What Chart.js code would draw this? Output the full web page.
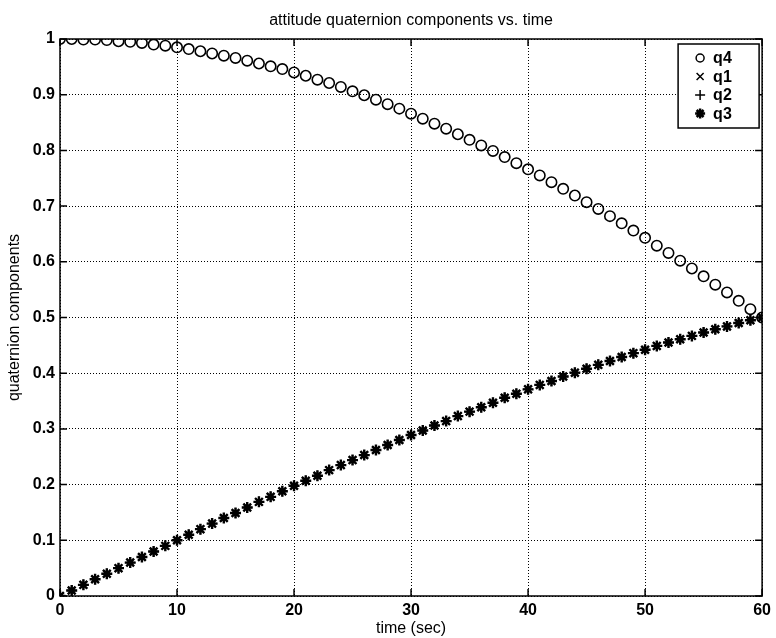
<!DOCTYPE html>
<html>
<head>
<meta charset="utf-8">
<title>attitude quaternion components vs. time</title>
<script src="https://cdn.jsdelivr.net/npm/chart.js@4.4.0/dist/chart.umd.min.js"></script>
<style>
  html, body { margin: 0; padding: 0; background: #fff; }
  #wrap { width: 776px; height: 638px; }
</style>
</head>
<body>
<div id="wrap"><canvas id="quat-chart" width="776" height="638"></canvas></div>
<script>
// time axis (sec)
const time = [
  0, 1, 2, 3, 4, 5, 6, 7, 8, 9,
  10, 11, 12, 13, 14, 15, 16, 17, 18, 19,
  20, 21, 22, 23, 24, 25, 26, 27, 28, 29,
  30, 31, 32, 33, 34, 35, 36, 37, 38, 39,
  40, 41, 42, 43, 44, 45, 46, 47, 48, 49,
  50, 51, 52, 53, 54, 55, 56, 57, 58, 59,
  60,
];

// scalar part
const q4 = [
  1.000, 1.000, 0.999, 0.999, 0.998, 0.996, 0.995, 0.993, 0.990, 0.988,
  0.985, 0.982, 0.978, 0.974, 0.970, 0.966, 0.961, 0.956, 0.951, 0.946,
  0.940, 0.934, 0.927, 0.921, 0.914, 0.906, 0.899, 0.891, 0.883, 0.875,
  0.866, 0.857, 0.848, 0.839, 0.829, 0.819, 0.809, 0.799, 0.788, 0.777,
  0.766, 0.755, 0.743, 0.731, 0.719, 0.707, 0.695, 0.682, 0.669, 0.656,
  0.643, 0.629, 0.616, 0.602, 0.588, 0.574, 0.559, 0.545, 0.530, 0.515,
  0.500,
];

// vector part - the three components sit on top of each other
const q1 = [
  0.000, 0.010, 0.020, 0.030, 0.040, 0.050, 0.060, 0.070, 0.080, 0.090,
  0.100, 0.110, 0.120, 0.130, 0.140, 0.149, 0.159, 0.169, 0.178, 0.188,
  0.198, 0.207, 0.216, 0.226, 0.235, 0.244, 0.253, 0.262, 0.271, 0.280,
  0.289, 0.297, 0.306, 0.314, 0.323, 0.331, 0.339, 0.347, 0.356, 0.363,
  0.371, 0.379, 0.386, 0.394, 0.401, 0.408, 0.415, 0.422, 0.429, 0.436,
  0.442, 0.449, 0.455, 0.461, 0.467, 0.473, 0.479, 0.484, 0.490, 0.495,
  0.500,
];
const q2 = [
  0.000, 0.010, 0.020, 0.030, 0.040, 0.050, 0.060, 0.070, 0.080, 0.090,
  0.100, 0.110, 0.120, 0.130, 0.140, 0.149, 0.159, 0.169, 0.178, 0.188,
  0.198, 0.207, 0.216, 0.226, 0.235, 0.244, 0.253, 0.262, 0.271, 0.280,
  0.289, 0.297, 0.306, 0.314, 0.323, 0.331, 0.339, 0.347, 0.356, 0.363,
  0.371, 0.379, 0.386, 0.394, 0.401, 0.408, 0.415, 0.422, 0.429, 0.436,
  0.442, 0.449, 0.455, 0.461, 0.467, 0.473, 0.479, 0.484, 0.490, 0.495,
  0.500,
];
const q3 = [
  0.000, 0.010, 0.020, 0.030, 0.040, 0.050, 0.060, 0.070, 0.080, 0.090,
  0.100, 0.110, 0.120, 0.130, 0.140, 0.149, 0.159, 0.169, 0.178, 0.188,
  0.198, 0.207, 0.216, 0.226, 0.235, 0.244, 0.253, 0.262, 0.271, 0.280,
  0.289, 0.297, 0.306, 0.314, 0.323, 0.331, 0.339, 0.347, 0.356, 0.363,
  0.371, 0.379, 0.386, 0.394, 0.401, 0.408, 0.415, 0.422, 0.429, 0.436,
  0.442, 0.449, 0.455, 0.461, 0.467, 0.473, 0.479, 0.484, 0.490, 0.495,
  0.500,
];

const FONT = "'Liberation Sans', Arial, Helvetica, sans-serif";

function pts(ys) {
  return time.map((t, i) => ({ x: t, y: ys[i] }));
}

function series(label, ys, style, radius, width) {
  return {
    label: label,
    data: pts(ys),
    pointStyle: style,
    pointRadius: radius,
    pointHoverRadius: radius,
    pointBorderWidth: width,
    borderColor: "#000",
    backgroundColor: "rgba(0,0,0,0)",
    showLine: false,
  };
}

// draws the axes box and the inward tick marks, MATLAB style
const frame = {
  id: "frame",
  afterDatasetsDraw(chart) {
    const { ctx, chartArea: a, scales } = chart;
    const len = 7;
    ctx.save();
    ctx.strokeStyle = "#000";
    ctx.lineWidth = 1.5;
    ctx.strokeRect(a.left, a.top, a.right - a.left, a.bottom - a.top);
    ctx.beginPath();
    scales.x.ticks.forEach((t) => {
      const px = scales.x.getPixelForValue(t.value);
      ctx.moveTo(px, a.bottom); ctx.lineTo(px, a.bottom - len);
      ctx.moveTo(px, a.top); ctx.lineTo(px, a.top + len);
    });
    scales.y.ticks.forEach((t) => {
      const py = scales.y.getPixelForValue(t.value);
      ctx.moveTo(a.left, py); ctx.lineTo(a.left + len, py);
      ctx.moveTo(a.right, py); ctx.lineTo(a.right - len, py);
    });
    ctx.stroke();
    ctx.restore();
  },
};

function marker(ctx, style, x, y) {
  ctx.beginPath();
  if (style === "circle") {
    ctx.arc(x, y, 4, 0, Math.PI * 2);
  }
  if (style === "crossRot" || style === "star") {
    ctx.moveTo(x - 3.5, y - 3.5); ctx.lineTo(x + 3.5, y + 3.5);
    ctx.moveTo(x - 3.5, y + 3.5); ctx.lineTo(x + 3.5, y - 3.5);
  }
  if (style === "cross" || style === "star") {
    ctx.moveTo(x, y - 5); ctx.lineTo(x, y + 5);
    ctx.moveTo(x - 5, y); ctx.lineTo(x + 5, y);
  }
  ctx.stroke();
}

// legend box in the upper right corner of the axes
const boxLegend = {
  id: "boxLegend",
  afterDraw(chart) {
    const { ctx, chartArea: a } = chart;
    const sets = chart.data.datasets;
    const w = 81, rowH = 18.5;
    const h = 10 + rowH * sets.length;
    const left = a.right - 3 - w, top = a.top + 5;
    ctx.save();
    ctx.fillStyle = "#fff";
    ctx.fillRect(left, top, w, h);
    ctx.strokeStyle = "#000";
    ctx.lineWidth = 1.5;
    ctx.strokeRect(left, top, w, h);
    ctx.font = "bold 16px " + FONT;
    ctx.textBaseline = "middle";
    ctx.fillStyle = "#000";
    sets.forEach((ds, i) => {
      const cy = top + 14 + i * rowH;
      ctx.lineWidth = ds.pointStyle === "star" ? 2.5 : 1.5;
      marker(ctx, ds.pointStyle, left + 22, cy);
      ctx.fillText(ds.label, left + 35, cy + 1);
    });
    ctx.restore();
  },
};

const quatConfig = {
  type: "scatter",
  data: {
    datasets: [
      series("q4", q4, "circle", 5.2, 1.6),
      series("q1", q1, "crossRot", 5, 1.5),
      series("q2", q2, "cross", 5, 1.5),
      series("q3", q3, "star", 5.5, 2.4),
    ],
  },
  options: {
    responsive: false,
    animation: false,
    devicePixelRatio: 1,
    layout: { padding: { left: 0, right: 11, top: 0, bottom: 0 } },
    plugins: {
      legend: { display: false },
      tooltip: { enabled: false },
      title: {
        display: true,
        fullSize: false,
        text: "attitude quaternion components vs. time",
        color: "#000",
        font: { family: FONT, size: 16, weight: "normal" },
        padding: { top: 11, bottom: 8.8 },
      },
    },
    scales: {
      x: {
        type: "linear",
        min: 0,
        max: 60,
        afterFit(scale) { scale.height = 42; },
        ticks: {
          stepSize: 10,
          padding: 5,
          color: "#000",
          font: { family: FONT, size: 16, weight: "bold" },
          maxRotation: 0,
        },
        grid: {
          color: "#000",
          lineWidth: 1,
          drawTicks: false,
        },
        border: { display: false, dash: [1, 2] },
        title: {
          display: true,
          text: "time (sec)",
          color: "#000",
          font: { family: FONT, size: 16, weight: "normal" },
          padding: { top: 0, bottom: 0 },
        },
      },
      y: {
        type: "linear",
        min: 0,
        max: 1,
        afterFit(scale) { scale.width = 60; },
        ticks: {
          stepSize: 0.1,
          padding: 5,
          color: "#000",
          font: { family: FONT, size: 16, weight: "bold" },
          callback: (v) => String(Math.round(v * 10) / 10),
        },
        grid: {
          color: "#000",
          lineWidth: 1,
          drawTicks: false,
        },
        border: { display: false, dash: [1, 2] },
        title: {
          display: true,
          text: "quaternion components",
          color: "#000",
          font: { family: FONT, size: 16, weight: "normal" },
          padding: { top: 5, bottom: 0 },
        },
      },
    },
  },
  plugins: [frame, boxLegend],
};

const quatChart = new Chart(document.getElementById("quat-chart"), quatConfig);
</script>
</body>
</html>
